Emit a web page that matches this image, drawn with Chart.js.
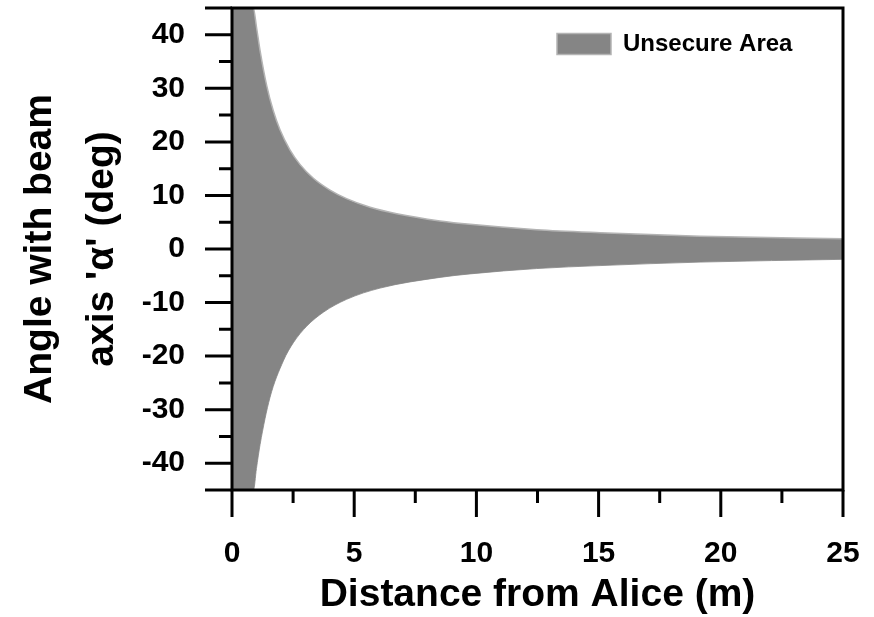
<!DOCTYPE html>
<html>
<head>
<meta charset="utf-8">
<script src="https://cdn.jsdelivr.net/npm/chart.js@4.4.0/dist/chart.umd.min.js"></script>
<style>
  html, body { margin: 0; padding: 0; background: #fff; }
</style>
</head>
<body>
<canvas id="chart" width="874" height="617"></canvas>
<script>
// edges of the unsecure area: distance from Alice (m) vs angle (deg)
const upperDistance = [0, 0.87, 1.0, 1.15, 1.42, 1.69, 1.96, 2.37, 2.78, 3.33, 4.01, 4.69, 5.65, 6.74, 8.51, 9.74, 12.47, 15.06, 19.15, 25];
const upperAngle = [45, 45, 41.5, 37.0, 30.5, 25.8, 22.3, 18.5, 15.8, 13.2, 11.0, 9.4, 7.8, 6.6, 5.25, 4.6, 3.6, 3.05, 2.4, 1.93];
const lowerDistance = [0, 0.88, 1.0, 1.15, 1.55, 2.1, 2.51, 3.06, 3.74, 4.69, 6.06, 8.51, 9.74, 12.47, 15.06, 19.15, 25];
const lowerAngle = [-45, -45, -41, -36.5, -27.8, -20.9, -17.5, -14.4, -11.8, -9.4, -7.3, -5.3, -4.65, -3.65, -3.1, -2.45, -1.93];

const xTickStep = 2.5;
const yTickStep = 5;
const seriesLabel = 'Unsecure Area';

const fontFamily = '"Liberation Sans", Arial, Helvetica, sans-serif';
const areaGray = '#858585';

// box frame plus long/short tick marks, drawn from the scales' own ticks
const frameAndTicks = {
    id: 'frameAndTicks',
    afterLayout(chart) {
        // legend sits inside the plot, near the top right corner
        if (chart.legend) chart.legend.left = chart.chartArea.right - 318;
    },
    afterDraw(chart) {
        const { ctx, chartArea: a, scales: { x, y } } = chart;
        ctx.save();
        ctx.strokeStyle = '#000';
        ctx.lineWidth = 3;
        ctx.strokeRect(a.left, a.top, a.right - a.left, a.bottom - a.top);
        ctx.beginPath();
        x.ticks.forEach(t => {
            const px = x.getPixelForValue(t.value);
            const len = t.label !== '' ? 27 : 13;
            ctx.moveTo(px, a.bottom);
            ctx.lineTo(px, a.bottom + len);
        });
        y.ticks.forEach(t => {
            const py = y.getPixelForValue(t.value);
            const isEnd = t.value === y.min || t.value === y.max;
            const len = (t.label !== '' || isEnd) ? 27 : 13;
            ctx.moveTo(a.left, py);
            ctx.lineTo(a.left - len, py);
        });
        ctx.stroke();
        ctx.restore();
    }
};

const ctx = document.getElementById('chart').getContext('2d');
new Chart(ctx, {
    type: 'line',
    data: {
        datasets: [{
            label: seriesLabel,
            data: upperDistance.map((d, i) => ({ x: d, y: upperAngle[i] })),
            borderColor: '#b4b4b4',
            borderWidth: 1.5,
            backgroundColor: areaGray,
            fill: '+1',
            pointRadius: 0,
            cubicInterpolationMode: 'monotone'
        }, {
            label: 'lower',
            data: lowerDistance.map((d, i) => ({ x: d, y: lowerAngle[i] })),
            borderColor: '#a0a0a0',
            borderWidth: 1,
            backgroundColor: areaGray,
            fill: false,
            pointRadius: 0,
            cubicInterpolationMode: 'monotone'
        }]
    },
    options: {
        responsive: false,
        animation: false,
        devicePixelRatio: 1,
        layout: { padding: { top: 8, right: 31, bottom: 0, left: 0 } },
        plugins: {
            tooltip: { enabled: false },
            legend: {
                position: 'chartArea',
                align: 'start',
                labels: {
                    filter: item => item.datasetIndex === 0,
                    boxWidth: 54,
                    boxHeight: 21,
                    padding: 32,
                    color: '#000',
                    font: { family: fontFamily, size: 24, weight: 'bold' }
                }
            }
        },
        scales: {
            x: {
                type: 'linear',
                min: 0,
                max: 25,
                grid: { display: false, drawTicks: true, tickLength: 27 },
                border: { display: false },
                ticks: {
                    stepSize: xTickStep,
                    autoSkip: false,
                    maxRotation: 0,
                    padding: 19,
                    color: '#000',
                    font: { family: fontFamily, size: 30, weight: 'bold' },
                    callback: v => (v % 5 === 0 ? v : '')
                },
                title: {
                    display: true,
                    text: 'Distance from Alice (m)',
                    color: '#000',
                    font: { family: fontFamily, size: 39, weight: 'bold', lineHeight: 1.1 },
                    padding: { top: 0, bottom: 0 }
                },
                afterFit(s) { s.height = 127; s.paddingLeft = 0; s.paddingRight = 0; }
            },
            y: {
                type: 'linear',
                min: -45,
                max: 45,
                grid: { display: false, drawTicks: true, tickLength: 27 },
                border: { display: false },
                ticks: {
                    stepSize: yTickStep,
                    autoSkip: false,
                    padding: 20,
                    color: '#000',
                    font: { family: fontFamily, size: 30, weight: 'bold' },
                    callback: v => (v % 10 === 0 ? v : '')
                },
                title: {
                    display: true,
                    text: ['Angle with beam', "axis '\u03B1' (deg)"],
                    color: '#000',
                    font: { family: fontFamily, size: 39, weight: 'bold', lineHeight: 1.59 },
                    padding: { top: 9, bottom: 0 }
                },
                afterFit(s) { s.width = 232; s.paddingTop = 0; s.paddingBottom = 0; }
            }
        }
    },
    plugins: [frameAndTicks]
});
</script>
</body>
</html>
